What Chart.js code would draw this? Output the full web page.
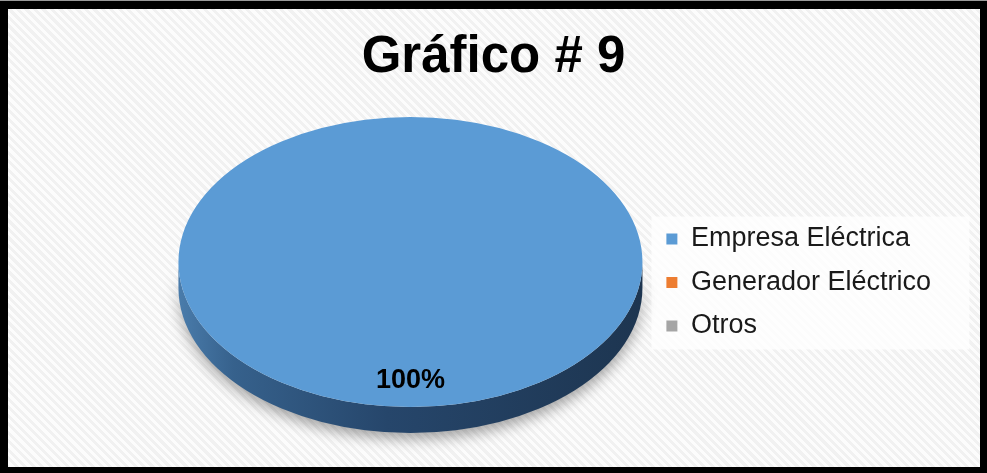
<!DOCTYPE html>
<html>
<head>
<meta charset="utf-8">
<script src="https://cdn.jsdelivr.net/npm/chart.js@4.4.1/dist/chart.umd.min.js"></script>
<style>
  html, body { margin: 0; padding: 0; }
  #marco {
    position: absolute; left: 0; top: 0;
    width: 987px; height: 473px;
    box-sizing: border-box;
    border-top: 1px solid #9a9a9a;
    background: repeating-linear-gradient(45deg, #fcfcfc 0 3px, #f1f1f1 3px 6px);
  }
  #marco::after {
    content: ""; position: absolute; inset: 0;
    border-style: solid; border-color: #000;
    border-width: 8px 7px 6px 8px;
  }
  #grafico { position: absolute; left: 0; top: 0; }
</style>
</head>
<body>
<div id="marco"></div>
<canvas id="grafico" width="987" height="473"></canvas>
<script>
// Datos del gráfico
const titulo = "Gráfico # 9";
const categorias = ["Empresa Eléctrica", "Generador Eléctrico", "Otros"];
const valores = [100, 0, 0];
const colores = ["#5B9BD5", "#ED7D31", "#A5A5A5"];

// Inclinación del pastel (alto / ancho) y grosor del canto
const INCLINACION = 0.625;
const GROSOR = 26;
const FUENTE = '"Liberation Sans", Arial, sans-serif';

window.onload = function() {

    let canva = document.getElementById('grafico').getContext('2d');

    // Título, fondo de la leyenda y pastel aplastado con canto
    const pastel3d = {
        id: 'pastel3d',
        beforeDraw(chart) {
            const ctx = chart.ctx;
            ctx.save();
            ctx.font = 'bold 51px ' + FUENTE;
            ctx.fillStyle = '#000';
            ctx.textAlign = 'center';
            ctx.textBaseline = 'alphabetic';
            ctx.fillText(titulo, chart.width / 2, 72);

            const cajas = chart.legend.legendHitBoxes;
            if (cajas && cajas.length) {
                const ultima = cajas[cajas.length - 1];
                ctx.fillStyle = 'rgba(255,255,255,0.75)';
                ctx.fillRect(cajas[0].left - 15, cajas[0].top - 9, 318,
                    ultima.top + ultima.height - cajas[0].top + 19);
            }
            ctx.restore();
        },
        beforeDatasetsDraw(chart) {
            const ctx = chart.ctx;
            const arco = chart.getDatasetMeta(0).data[0];
            const cx = arco.x, cy = arco.y;
            const ry = arco.outerRadius, rx = ry / INCLINACION;

            // canto del pastel con sombra
            ctx.save();
            const grad = ctx.createLinearGradient(cx - rx, 0, cx + rx, 0);
            grad.addColorStop(0, '#4a7cab');
            grad.addColorStop(0.12, '#36618c');
            grad.addColorStop(0.45, '#26466b');
            grad.addColorStop(1, '#1d3550');
            ctx.fillStyle = grad;
            ctx.shadowColor = 'rgba(0,0,0,0.35)';
            ctx.shadowBlur = 14;
            ctx.shadowOffsetY = 6;
            ctx.beginPath();
            ctx.ellipse(cx, cy, rx, ry, 0, 0, Math.PI, false);
            ctx.lineTo(cx - rx, cy + GROSOR);
            ctx.ellipse(cx, cy + GROSOR, rx, ry, 0, Math.PI, 0, true);
            ctx.closePath();
            ctx.fill();
            ctx.restore();

            ctx.save();
            ctx.translate(cx, cy);
            ctx.scale(1 / INCLINACION, 1);
            ctx.translate(-cx, -cy);
        },
        afterDatasetsDraw(chart) {
            const ctx = chart.ctx;
            ctx.restore();

            // porcentajes sobre cada porción
            const meta = chart.getDatasetMeta(0);
            const datos = chart.data.datasets[0].data;
            const total = datos.reduce((a, b) => a + b, 0);
            ctx.save();
            ctx.font = 'bold 27px ' + FUENTE;
            ctx.fillStyle = '#000';
            ctx.textAlign = 'center';
            ctx.textBaseline = 'middle';
            meta.data.forEach((arco, i) => {
                if (!datos[i]) return;
                const medio = (arco.startAngle + arco.endAngle) / 2;
                const r = arco.outerRadius * 0.82;
                const x = arco.x + Math.cos(medio) * r / INCLINACION;
                const y = arco.y + Math.sin(medio) * r;
                ctx.fillText(Math.round(datos[i] / total * 100) + '%', x, y);
            });
            ctx.restore();
        }
    };

    let myChart = new Chart(canva, {
        type: 'pie',
        data: {
            labels: categorias,
            datasets: [{
                data: valores,
                backgroundColor: colores,
                borderWidth: 0,
                clip: false
            }]
        },
        options: {
            responsive: false,
            animation: false,
            layout: { padding: { left: 171, right: 46, top: 117, bottom: 66 } },
            plugins: {
                title: { display: false },
                legend: {
                    position: 'right',
                    title: { display: true, text: '', font: { size: 10 }, padding: { top: 29, bottom: 0 } },
                    labels: {
                        boxWidth: 11,
                        boxHeight: 11,
                        padding: 16.5,
                        color: '#1a1a1a',
                        font: { family: FUENTE, size: 27 }
                    }
                },
                tooltip: { enabled: false }
            }
        },
        plugins: [pastel3d]
    });
};
</script>
</body>
</html>
